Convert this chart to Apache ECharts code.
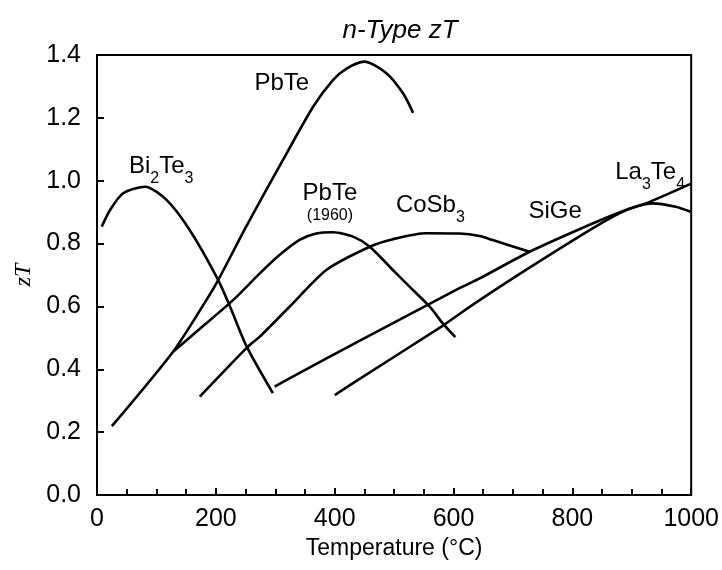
<!DOCTYPE html>
<html>
<head>
<meta charset="utf-8">
<script src="https://cdn.jsdelivr.net/npm/echarts@6/dist/echarts.min.js"></script>
<style>html,body{margin:0;padding:0;background:#fff;}#c{width:722px;height:570px;}</style>
</head>
<body>
<div id="c"></div>
<script>
// ---- data (Temperature °C, zT) ----
const xTicks = [0, 200, 400, 600, 800, 1000];
const yTicks = [0.0, 0.2, 0.4, 0.6, 0.8, 1.0, 1.2, 1.4];

const bi2te3T = [8, 22, 44, 81, 117, 156, 204, 224, 252, 296];
const bi2te3Z = [0.854, 0.907, 0.960, 0.981, 0.939, 0.843, 0.684, 0.599, 0.472, 0.324];

const pbteT = [25, 128, 184, 204, 251, 313, 364, 397, 420, 450, 487, 515, 532];
const pbteZ = [0.219, 0.456, 0.620, 0.684, 0.854, 1.066, 1.236, 1.320, 1.357, 1.379, 1.342, 1.278, 1.216];

const pbte1960T = [128, 180, 229, 274, 308, 341, 369, 397, 431, 459, 498, 526, 560, 582, 603];
const pbte1960Z = [0.456, 0.540, 0.620, 0.705, 0.765, 0.812, 0.832, 0.836, 0.822, 0.790, 0.716, 0.663, 0.599, 0.546, 0.502];

const cosb3T = [173, 254, 274, 324, 386, 459, 498, 554, 610, 644, 666, 728];
const cosb3Z = [0.313, 0.472, 0.504, 0.599, 0.716, 0.790, 0.814, 0.833, 0.832, 0.824, 0.811, 0.774];

const la3te4T = [299, 324, 444, 610, 644, 728, 834, 890, 924, 999];
const la3te4Z = [0.345, 0.371, 0.493, 0.658, 0.689, 0.774, 0.864, 0.907, 0.928, 0.990];

const sigeT = [400, 444, 583, 610, 644, 722, 834, 879, 907, 935, 974, 999];
const sigeZ = [0.318, 0.372, 0.540, 0.576, 0.620, 0.716, 0.848, 0.896, 0.918, 0.928, 0.917, 0.901];

// curve annotations (text, anchor T, anchor zT)
const annText = ['{m|PbTe}', '{m|Bi}{s|2}{m|Te}{s|3}', '{m|PbTe}', '{p|(1960)}', '{m|CoSb}{s|3}', '{m|SiGe}', '{m|La}{s|3}{m|Te}{s|4}'];
const annT = [311, 108, 392, 392, 561, 771, 931];
const annZ = [1.311, 1.045, 0.961, 0.888, 0.920, 0.904, 1.025];

// ---- chart ----
const zip = (a, b) => a.map((v, i) => [v, b[i]]);
const lineStyle = { color: '#000', width: 2.6 };
const mkLine = (name, t, z) => ({
  name, type: 'line', data: zip(t, z), smooth: 0.25,
  showSymbol: false, symbol: 'none', lineStyle, silent: true
});

const chart = echarts.init(document.getElementById('c'), null, { renderer: 'canvas' });
const font = 'Liberation Sans, Arial, Helvetica, sans-serif';
chart.setOption({
  backgroundColor: '#fff',
  animation: false,
  title: {
    text: 'n-Type zT', left: 395, top: 13, textAlign: 'center',
    textStyle: { fontFamily: font, fontStyle: 'italic', fontWeight: 'normal', fontSize: 26, color: '#000' }
  },
  grid: { left: 97, right: 29, top: 55, bottom: 75, show: true, borderColor: '#000', borderWidth: 2, backgroundColor: 'transparent' },
  xAxis: {
    type: 'value', min: xTicks[0], max: xTicks[xTicks.length - 1], interval: 200,
    name: 'Temperature (°C)', nameLocation: 'middle', nameGap: 40,
    nameTextStyle: { fontFamily: font, fontSize: 23, color: '#000' },
    axisLine: { show: true, lineStyle: { color: '#000', width: 2 } },
    axisTick: { show: true, inside: true, length: 7, lineStyle: { color: '#000', width: 2 } },
    minorTick: { show: true, splitNumber: 4, length: 6, lineStyle: { color: '#000', width: 2 } },
    splitLine: { show: false },
    minorSplitLine: { show: false },
    axisLabel: { fontFamily: font, fontSize: 25, color: '#000', margin: 12, formatter: v => String(v) }
  },
  yAxis: {
    type: 'value', min: yTicks[0], max: yTicks[yTicks.length - 1], interval: 0.2,
    name: 'zT', nameLocation: 'middle', nameGap: 58, nameRotate: 90,
    nameTextStyle: { fontFamily: 'Liberation Serif, Times New Roman, serif', fontStyle: 'italic', fontSize: 24, color: '#000' },
    axisLine: { show: true, lineStyle: { color: '#000', width: 2 } },
    axisTick: { show: true, inside: true, length: 7, lineStyle: { color: '#000', width: 2 } },
    splitLine: { show: false },
    axisLabel: { fontFamily: font, fontSize: 25, color: '#000', margin: 16, formatter: v => v.toFixed(1) }
  },
  series: [
    mkLine('Bi2Te3', bi2te3T, bi2te3Z),
    mkLine('PbTe', pbteT, pbteZ),
    mkLine('PbTe (1960)', pbte1960T, pbte1960Z),
    mkLine('CoSb3', cosb3T, cosb3Z),
    mkLine('La3Te4', la3te4T, la3te4Z),
    mkLine('SiGe', sigeT, sigeZ),
    {
      type: 'scatter', silent: true, symbolSize: 0, itemStyle: { opacity: 1 },
      data: annT.map((t, i) => ({ value: [t, annZ[i]], label: { formatter: annText[i] } })),
      label: {
        show: true, position: 'inside', color: '#000', opacity: 1, textBorderWidth: 0,
        rich: {
          m: { fontFamily: font, fontSize: 24, color: '#000', lineHeight: 40, verticalAlign: 'middle' },
          s: { fontFamily: font, fontSize: 16, color: '#000', lineHeight: 16, verticalAlign: 'bottom' },
          p: { fontFamily: font, fontSize: 16, color: '#000', lineHeight: 20 }
        }
      }
    }
  ]
});
</script>
</body>
</html>
